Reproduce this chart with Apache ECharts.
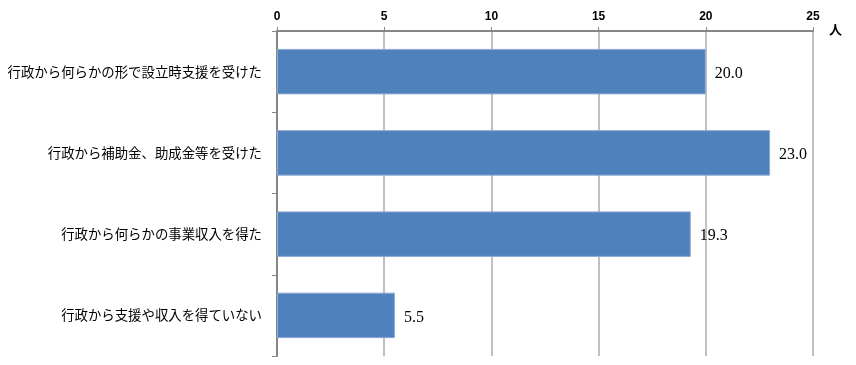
<!DOCTYPE html>
<html><head><meta charset="utf-8">
<script src="https://cdn.jsdelivr.net/npm/echarts@6/dist/echarts.min.js"></script>
<style>html,body{margin:0;padding:0;background:#fff}#c{width:856px;height:365px}</style>
</head><body><div id="c"></div>
<script>
const categories = ["行政から何らかの形で設立時支援を受けた","行政から補助金、助成金等を受けた","行政から何らかの事業収入を得た","行政から支援や収入を得ていない"];
const values = [20.0, 23.0, 19.3, 5.5];
const xTicks = [0, 5, 10, 15, 20, 25];
const unit = "人";

const chart = echarts.init(document.getElementById('c'));
chart.setOption({
  animation: false,
  grid: {left: 277, right: 43, top: 31, bottom: 9, containLabel: false, outerBoundsMode: 'none'},
  xAxis: {
    type: 'value', position: 'top', min: xTicks[0], max: xTicks[xTicks.length-1], interval: 5,
    axisLine: {show: true, lineStyle: {color: '#868686', width: 2}},
    axisTick: {show: true, length: 4, lineStyle: {color: '#868686', width: 1}},
    axisLabel: {color: '#000', fontFamily: 'Liberation Sans, sans-serif', fontWeight: 'bold', fontSize: 12, margin: 8},
    splitLine: {show: true, lineStyle: {color: '#ABABAB', width: 1.5}}
  },
  yAxis: {
    type: 'category', data: categories, inverse: true,
    axisLine: {show: true, lineStyle: {color: '#868686', width: 2}},
    axisTick: {show: true, length: 5, lineStyle: {color: '#868686'}},
    axisLabel: {color: '#000', fontFamily: 'Noto Sans CJK JP', fontSize: 13.4, margin: 15}
  },
  series: [{
    type: 'bar', data: values, barWidth: '56%',
    itemStyle: {color: '#4F81BD', borderColor: '#8EAAD6', borderWidth: 1},
    label: {show: true, position: 'right', distance: 9, offset: [0, 2], color: '#000', fontFamily: 'Liberation Serif, serif', fontSize: 16,
      formatter: p => p.value.toFixed(1)}
  }],
  graphic: [{type: 'text', left: 829, top: 23, style: {text: unit, fill: '#000', font: 'bold 13px "Noto Sans CJK JP"'}}]
});
</script></body></html>
